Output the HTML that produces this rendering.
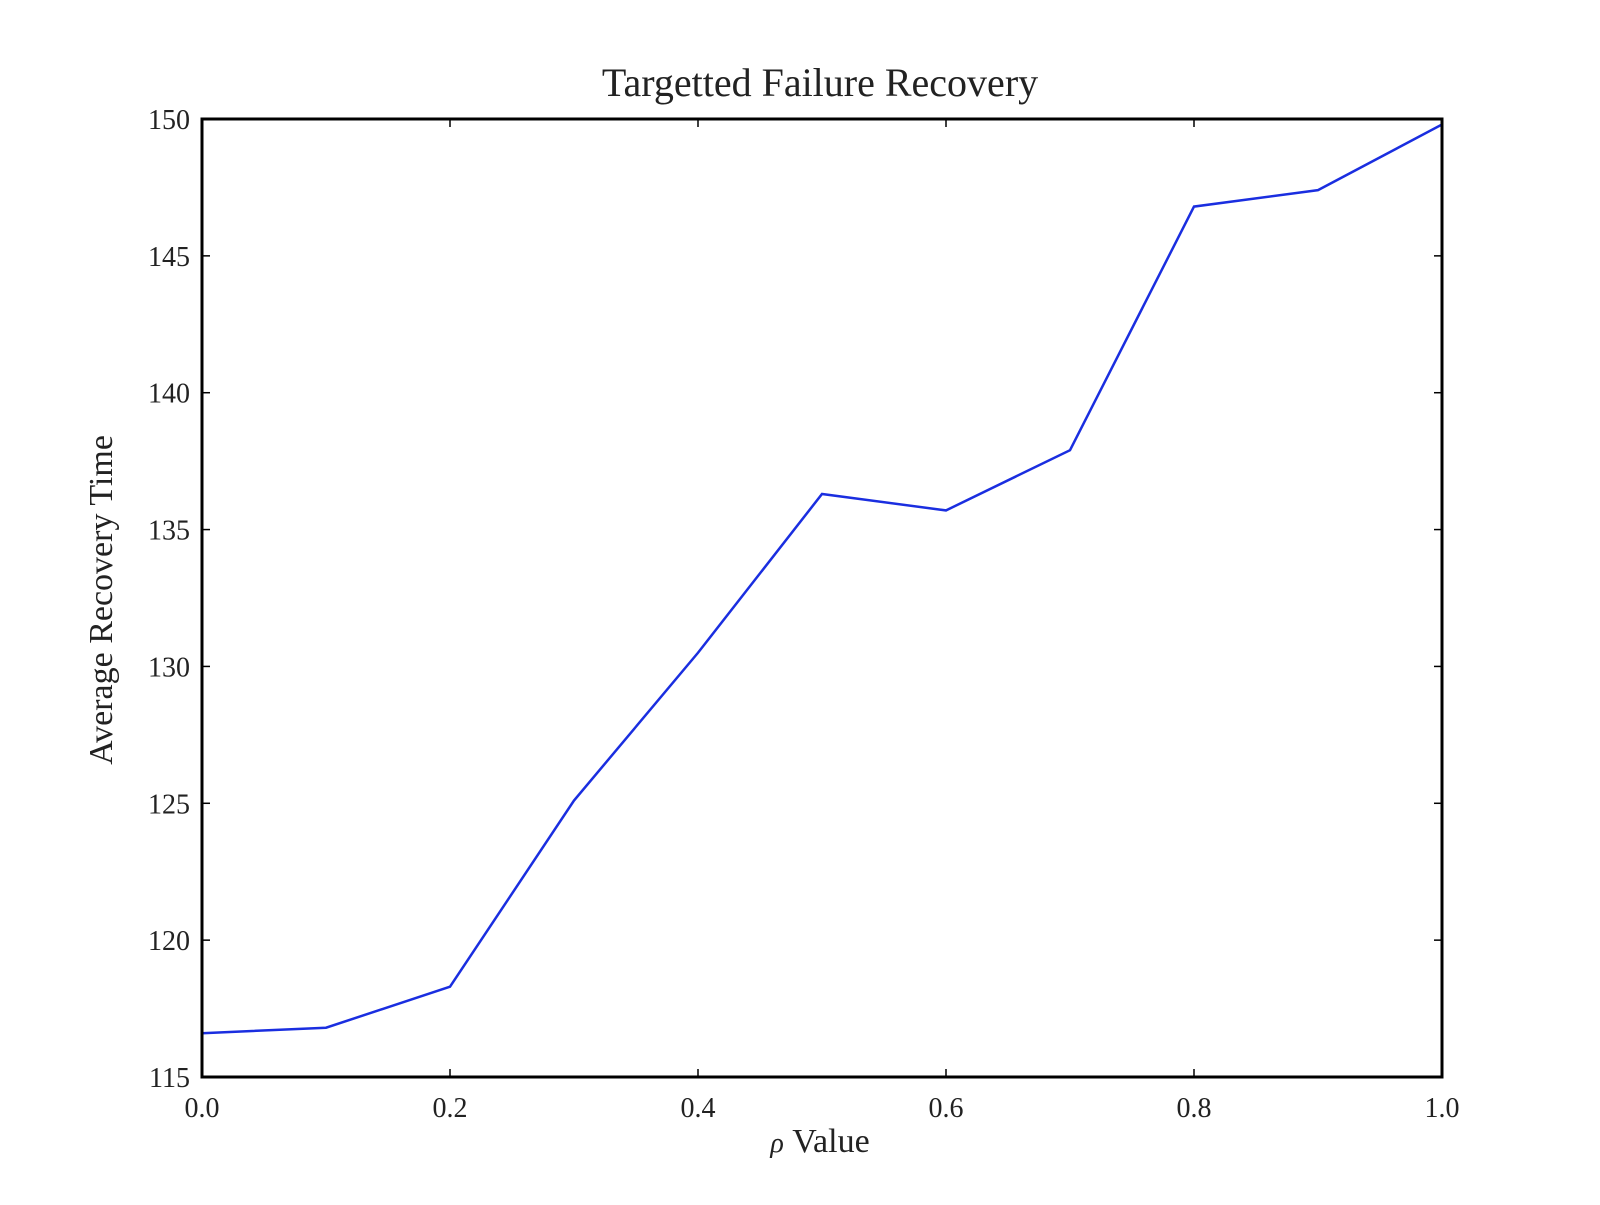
<!DOCTYPE html>
<html><head><meta charset="utf-8"><style>
body{margin:0;background:#fff;}
svg text{font-family:"Liberation Serif",serif;fill:#222;}
</style></head><body>
<svg id="chart" width="1600" height="1200"></svg>
<script>
const xValues=[0,0.1,0.2,0.3,0.4,0.5,0.6,0.7,0.8,0.9,1.0];
const yValues=[116.6,116.8,118.3,125.1,130.5,136.3,135.7,137.9,146.8,147.4,149.8];
const xTicks=[0,0.2,0.4,0.6,0.8,1.0];
const xTickLabels=["0.0","0.2","0.4","0.6","0.8","1.0"];
const yTicks=[115,120,125,130,135,140,145,150];
const yTickLabels=["115","120","125","130","135","140","145","150"];
const L=202,R=1442,T=119,B=1077;
const sx=v=>L+(v-0)/(1-0)*(R-L);
const sy=v=>B-(v-115)/(150-115)*(B-T);
const svg=document.getElementById('chart');
const NS='http://www.w3.org/2000/svg';
function mk(tag,attrs,parent){const e=document.createElementNS(NS,tag);for(const k in attrs)e.setAttribute(k,attrs[k]);(parent||svg).appendChild(e);return e;}
let t=mk('text',{x:820,y:96,'font-size':40,'text-anchor':'middle'});t.textContent='Targetted Failure Recovery';


xTicks.forEach((v,i)=>{
  const x=sx(v);
  const a=mk('line',{x1:x,x2:x,y1:B,y2:B-8,stroke:'#000','stroke-width':1.5});
  
  
  mk('line',{x1:x,x2:x,y1:T,y2:T+8,stroke:'#000','stroke-width':1.5});
  const l=mk('text',{x:x,y:B+40,'font-size':28,'text-anchor':'middle'});l.textContent=xTickLabels[i];
  
  
});
yTicks.forEach((v,i)=>{
  const y=sy(v);
  const a=mk('line',{x1:L,x2:L+8,y1:y,y2:y,stroke:'#000','stroke-width':1.5});
  
  
  mk('line',{x1:R,x2:R-8,y1:y,y2:y,stroke:'#000','stroke-width':1.5});
  const l=mk('text',{x:L-12,y:y+10,'font-size':28,'text-anchor':'end'});l.textContent=yTickLabels[i];
  
  
});
const pts=xValues.map((v,i)=>sx(v)+','+sy(yValues[i])).join(' ');
const line=mk('polyline',{points:pts,fill:'none',stroke:'#1a2ee0','stroke-width':2.5});


const frame=mk('rect',{x:L,y:T,width:R-L,height:B-T,fill:'none',stroke:'#000','stroke-width':3});


const xl=mk('text',{x:820,y:1152,'font-size':34,'text-anchor':'middle'});
xl.innerHTML='<tspan font-style="italic" font-size="28">ρ</tspan> Value';


const yl=mk('text',{x:0,y:0,'font-size':34,'text-anchor':'middle',transform:'translate(112,600) rotate(-90)'});
yl.textContent='Average Recovery Time';


</script>
</body></html>
